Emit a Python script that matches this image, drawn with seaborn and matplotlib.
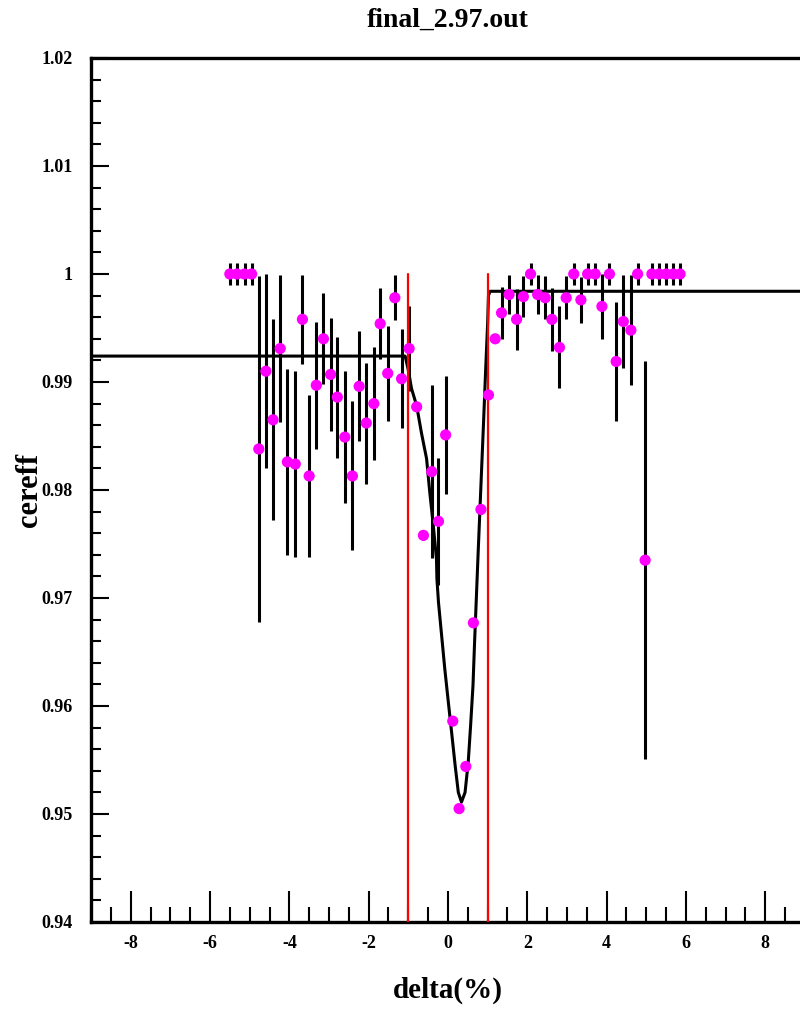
import numpy as np
import pandas as pd
import matplotlib
matplotlib.use("Agg")
import matplotlib.pyplot as plt
import seaborn as sns
from matplotlib.ticker import MultipleLocator, FuncFormatter

# puntos medidos (delta en %, eficiencia y error)
delta = [-5.50, -5.32, -5.13, -4.95, -4.77, -4.59, -4.41, -4.23, -4.05, -3.85,
         -3.67, -3.50, -3.32, -3.14, -2.96, -2.79, -2.60, -2.41, -2.24, -2.06,
         -1.87, -1.71, -1.52, -1.34, -1.17, -0.98, -0.79, -0.62, -0.41, -0.24,
         -0.06, 0.12, 0.28, 0.45, 0.64, 0.83, 1.02, 1.19, 1.35, 1.54,
         1.73, 1.90, 2.08, 2.26, 2.45, 2.62, 2.81, 2.98, 3.17, 3.35,
         3.52, 3.71, 3.88, 4.07, 4.24, 4.42, 4.61, 4.78, 4.97, 5.14,
         5.32, 5.50, 5.68, 5.85]
cereff = [1.0, 1.0, 1.0, 1.0, 0.9838, 0.9910, 0.9865, 0.9931, 0.9826, 0.9824,
          0.9958, 0.9813, 0.9897, 0.9940, 0.9907, 0.9886, 0.9849, 0.9813, 0.9896, 0.9862,
          0.9880, 0.9954, 0.9908, 0.9978, 0.9903, 0.9931, 0.9877, 0.9758, 0.9817, 0.9771,
          0.9851, 0.9586, 0.9505, 0.9544, 0.9677, 0.9782, 0.9888, 0.9940, 0.9964, 0.9981,
          0.9958, 0.9979, 1.0, 0.9981, 0.9978, 0.9958, 0.9932, 0.9978, 1.0, 0.9976,
          1.0, 1.0, 0.9970, 1.0, 0.9919, 0.9956, 0.9948, 1.0, 0.9735, 1.0,
          1.0, 1.0, 1.0, 1.0]
cereff_err = [0.0010, 0.0010, 0.0010, 0.0010, 0.0160, 0.0090, 0.0093, 0.0068, 0.0086, 0.0086,
              0.0041, 0.0075, 0.0059, 0.0042, 0.0052, 0.0056, 0.0061, 0.0069, 0.0051, 0.0056,
              0.0052, 0.0033, 0.0044, 0.0021, 0.0046, 0.0039, 0.0004, 0.0004, 0.0080, 0.0059,
              0.0055, 0.0004, 0.0004, 0.0004, 0.0004, 0.0004, 0.0004, 0.0004, 0.0024, 0.0018,
              0.0028, 0.0019, 0.0010, 0.0018, 0.0020, 0.0029, 0.0038, 0.0020, 0.0010, 0.0021,
              0.0010, 0.0010, 0.0030, 0.0010, 0.0055, 0.0043, 0.0051, 0.0010, 0.0184, 0.0010,
              0.0010, 0.0010, 0.0010, 0.0010]

# curva del ajuste
fit_x = [-9.0, -1.08, -1.00, -0.92, -0.79, -0.67, -0.54, -0.46, -0.37, -0.29,
         -0.28, -0.24, -0.16, -0.08, 0.01, 0.09, 0.18, 0.26, 0.34, 0.43,
         0.51, 0.57, 0.63, 0.67, 0.72, 0.76, 0.83, 0.89, 0.95, 1.00,
         1.02, 1.06, 9.0]
fit_y = [0.9924, 0.9924, 0.9911, 0.9894, 0.9878, 0.9853, 0.9829, 0.9798, 0.9767, 0.9736,
         0.9718, 0.9696, 0.9665, 0.9634, 0.9603, 0.9576, 0.9545, 0.9520, 0.9511, 0.9520,
         0.9548, 0.9582, 0.9619, 0.9659, 0.9705, 0.9742, 0.9804, 0.9857, 0.9912, 0.9955,
         0.9980, 0.9984, 0.9984]

# limites de la ventana
cut_lines = [-1.0, 1.0]

df = pd.DataFrame({"delta": delta, "cereff": cereff, "err": cereff_err})
fit_df = pd.DataFrame({"delta": fit_x, "cereff": fit_y})

sns.set_theme(style="white")
plt.rcParams["font.family"] = ["Liberation Serif", "DejaVu Serif"]
plt.rcParams["font.weight"] = "bold"
plt.rcParams["axes.unicode_minus"] = False
plt.rcParams["text.color"] = "black"
plt.rcParams["xtick.color"] = "black"
plt.rcParams["ytick.color"] = "black"

fig = plt.figure(figsize=(8, 10.1), dpi=100)
ax = fig.add_axes([91 / 800, 88 / 1010, 714 / 800, 864 / 1010])

ax.errorbar(df["delta"], df["cereff"], yerr=df["err"], fmt="none",
            ecolor="black", elinewidth=2.2, capsize=0, zorder=2)
sns.lineplot(data=fit_df, x="delta", y="cereff", color="black", linewidth=2.2,
             ax=ax, zorder=3, estimator=None, sort=False)
for xc in cut_lines:
    ax.plot([xc, xc], [1.0, 0.94], color="red", linewidth=1.6, zorder=4)
sns.scatterplot(data=df, x="delta", y="cereff", color="#ff00ff", s=65,
                edgecolor="none", ax=ax, zorder=5)

ax.set_xlim(-9, 9)
ax.set_ylim(0.94, 1.02)
ax.set_xlabel("")
ax.set_ylabel("")

ax.xaxis.set_major_locator(MultipleLocator(2))
ax.xaxis.set_minor_locator(MultipleLocator(0.5))
ax.yaxis.set_major_locator(MultipleLocator(0.01))
ax.yaxis.set_minor_locator(MultipleLocator(0.002))
ax.xaxis.set_major_formatter(FuncFormatter(lambda v, p: "" if abs(v) > 8.5 else f"{v:g}"))
ax.yaxis.set_major_formatter(FuncFormatter(lambda v, p: f"{round(v, 3):g}"))

ax.tick_params(axis="x", which="major", direction="in", length=22, width=1.5,
               bottom=True, top=False, pad=9, labelsize=13, colors="black")
ax.tick_params(axis="x", which="minor", direction="in", length=11, width=1.5,
               bottom=True, top=False)
ax.tick_params(axis="y", which="major", direction="in", length=13, width=1.5,
               left=True, right=False, pad=13, labelsize=13, colors="black")
ax.tick_params(axis="y", which="minor", direction="in", length=7, width=1.5,
               left=True, right=False)
for lab in ax.get_xticklabels() + ax.get_yticklabels():
    lab.set_fontweight("bold")

for side in ["left", "bottom", "top", "right"]:
    ax.spines[side].set_color("black")
    ax.spines[side].set_linewidth(2.4)

fig.text(448 / 800, 1 - 20 / 1010, "final_2.97.out", ha="center", va="center",
         fontsize=20, fontweight="bold", color="black")
fig.text(448 / 800, 1 - 990 / 1010, "delta(%)", ha="center", va="center",
         fontsize=21, fontweight="bold", color="black")
fig.text(30 / 800, 1 - 490 / 1010, "cereff", ha="center", va="center",
         rotation=90, fontsize=22, fontweight="bold", color="black")

fig.savefig("out.png", dpi=100)
